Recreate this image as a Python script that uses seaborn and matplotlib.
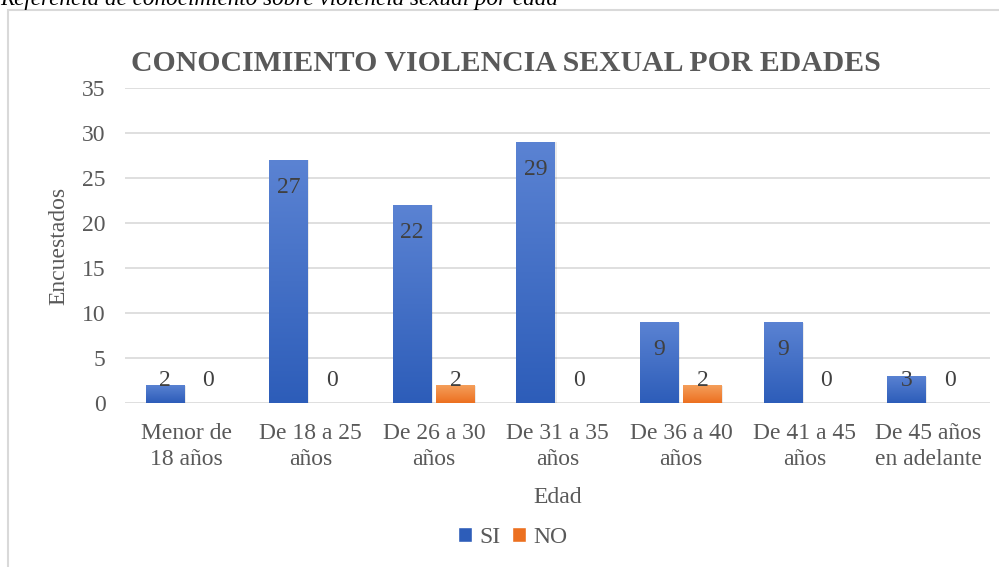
import numpy as np
import pandas as pd
import matplotlib.pyplot as plt
import seaborn as sns
from matplotlib.patches import Patch, Rectangle
from matplotlib.colors import LinearSegmentedColormap

# datos
edades = ['Menor de\n18 años', 'De 18 a 25\naños', 'De 26 a 30\naños', 'De 31 a 35\naños',
          'De 36 a 40\naños', 'De 41 a 45\naños', 'De 45 años\nen adelante']
si = [2, 27, 22, 29, 9, 9, 3]
no = [0, 0, 2, 0, 2, 0, 0]
series = ['SI', 'NO']

df = pd.DataFrame({
    'Edad': edades * 2,
    'Encuestados': si + no,
    'Respuesta': ['SI'] * len(si) + ['NO'] * len(no),
})

sns.set_style('white')
plt.rcParams['font.family'] = ['Liberation Serif', 'DejaVu Serif']

gris = '#595959'
colores = {'SI': ('#5B83D3', '#2D5DB9'), 'NO': ('#F5A15E', '#EC7020')}

fig = plt.figure(figsize=(9.99, 5.67), dpi=100)
ax = fig.add_axes([0.125, 0.289, 0.866, 0.556])

sns.barplot(data=df, x='Edad', y='Encuestados', hue='Respuesta', hue_order=series,
            palette={'SI': '#4472C4', 'NO': '#ED7D31'}, width=0.7, gap=0.1,
            legend=False, ax=ax)

ax.set_ylim(0, 35)
ax.set_yticks(range(0, 36, 5))
ax.set_xticks(range(len(edades)), edades, linespacing=1.35)
ax.set_xlim(-0.5, len(edades) - 0.5)
ax.grid(axis='y', color='#D9D9D9', lw=1.2)
ax.set_axisbelow(True)
for s in ax.spines.values():
    s.set_visible(False)
ax.tick_params(axis='both', length=0, labelsize=17, colors=gris)
ax.tick_params(axis='y', pad=14)
ax.tick_params(axis='x', pad=14)
ax.set_ylabel('Encuestados', fontsize=17, color=gris, labelpad=9)
ax.set_xlabel('Edad', fontsize=17, color=gris, labelpad=12)

# degradado en las barras
for i, cont in enumerate(ax.containers):
    top_c, bot_c = colores[series[i]]
    cmap = LinearSegmentedColormap.from_list('g', [bot_c, top_c])
    grad = np.linspace(0, 1, 256).reshape(-1, 1)
    for bar, v in zip(cont.patches, [si, no][i]):
        x0, w, h = bar.get_x(), bar.get_width(), bar.get_height()
        sh = Rectangle((x0 + 0.01, -0.15), w, h + 0.1, facecolor='#000000', alpha=0.08,
                       edgecolor='none', zorder=1.5)
        ax.add_patch(sh)
        bar.set_facecolor('none')
        bar.set_edgecolor('none')
        bar.set_zorder(2)
        if h > 0:
            im = ax.imshow(grad, cmap=cmap, origin='lower', aspect='auto',
                           extent=(x0, x0 + w, 0, h), zorder=2)
            im.set_clip_path(bar)
        ax.text(x0 + w / 2, max(v, 5.6) - 3.1, str(v), ha='center', va='center',
                fontsize=17, color='#404040', zorder=3)

ax.set_xlim(-0.5, len(edades) - 0.5)
ax.set_ylim(0, 35)

fig.text(0.506, 0.888, 'CONOCIMIENTO VIOLENCIA SEXUAL POR EDADES', ha='center', va='center',
         fontsize=21.4, fontweight='bold', color=gris)

handles = [Patch(facecolor=colores[s][1], label=s) for s in series]
fig.legend(handles=handles, loc='center', bbox_to_anchor=(0.513, 0.052), ncol=2,
           frameon=False, fontsize=17, handlelength=0.6, handleheight=0.6,
           handletextpad=0.3, columnspacing=0.5, labelcolor=gris)

# marco del grafico y titulo de la figura
fig.patches.append(Rectangle((0.008, -0.01), 1.0, 0.993, transform=fig.transFigure,
                             fill=False, edgecolor='#D9D9D9', lw=1.5))
fig.text(0.0, 1.0, 'Referencia de conocimiento sobre violencia sexual por edad',
         ha='left', va='center', fontsize=16.7, style='italic', color='#000000')

plt.savefig('out.png', dpi=100)
